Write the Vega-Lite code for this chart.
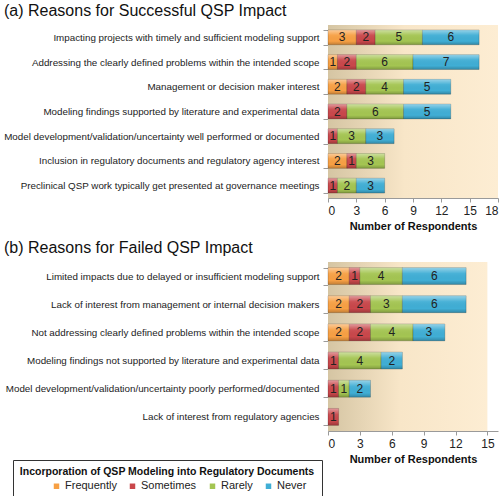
{
  "$schema": "https://vega.github.io/schema/vega-lite/v6.json",
  "background": "white",
  "padding": {"left": 3, "top": 3, "right": 0, "bottom": 0},
  "bounds": "flush",
  "spacing": 64,
  "datasets": {
    "a": [
      {"reason": "Impacting projects with timely and sufficient modeling support", "category": "Frequently", "order": 1, "count": 3},
      {"reason": "Impacting projects with timely and sufficient modeling support", "category": "Sometimes", "order": 2, "count": 2},
      {"reason": "Impacting projects with timely and sufficient modeling support", "category": "Rarely", "order": 3, "count": 5},
      {"reason": "Impacting projects with timely and sufficient modeling support", "category": "Never", "order": 4, "count": 6},
      {"reason": "Addressing the clearly defined problems within the intended scope", "category": "Frequently", "order": 1, "count": 1},
      {"reason": "Addressing the clearly defined problems within the intended scope", "category": "Sometimes", "order": 2, "count": 2},
      {"reason": "Addressing the clearly defined problems within the intended scope", "category": "Rarely", "order": 3, "count": 6},
      {"reason": "Addressing the clearly defined problems within the intended scope", "category": "Never", "order": 4, "count": 7},
      {"reason": "Management or decision maker interest", "category": "Frequently", "order": 1, "count": 2},
      {"reason": "Management or decision maker interest", "category": "Sometimes", "order": 2, "count": 2},
      {"reason": "Management or decision maker interest", "category": "Rarely", "order": 3, "count": 4},
      {"reason": "Management or decision maker interest", "category": "Never", "order": 4, "count": 5},
      {"reason": "Modeling findings supported by literature and experimental data", "category": "Sometimes", "order": 2, "count": 2},
      {"reason": "Modeling findings supported by literature and experimental data", "category": "Rarely", "order": 3, "count": 6},
      {"reason": "Modeling findings supported by literature and experimental data", "category": "Never", "order": 4, "count": 5},
      {"reason": "Model development/validation/uncertainty well performed or documented", "category": "Sometimes", "order": 2, "count": 1},
      {"reason": "Model development/validation/uncertainty well performed or documented", "category": "Rarely", "order": 3, "count": 3},
      {"reason": "Model development/validation/uncertainty well performed or documented", "category": "Never", "order": 4, "count": 3},
      {"reason": "Inclusion in regulatory documents and regulatory agency interest", "category": "Frequently", "order": 1, "count": 2},
      {"reason": "Inclusion in regulatory documents and regulatory agency interest", "category": "Sometimes", "order": 2, "count": 1},
      {"reason": "Inclusion in regulatory documents and regulatory agency interest", "category": "Rarely", "order": 3, "count": 3},
      {"reason": "Preclinical QSP work typically get presented at governance meetings", "category": "Sometimes", "order": 2, "count": 1},
      {"reason": "Preclinical QSP work typically get presented at governance meetings", "category": "Rarely", "order": 3, "count": 2},
      {"reason": "Preclinical QSP work typically get presented at governance meetings", "category": "Never", "order": 4, "count": 3}
    ],
    "b": [
      {"reason": "Limited impacts due to delayed or insufficient modeling support", "category": "Frequently", "order": 1, "count": 2},
      {"reason": "Limited impacts due to delayed or insufficient modeling support", "category": "Sometimes", "order": 2, "count": 1},
      {"reason": "Limited impacts due to delayed or insufficient modeling support", "category": "Rarely", "order": 3, "count": 4},
      {"reason": "Limited impacts due to delayed or insufficient modeling support", "category": "Never", "order": 4, "count": 6},
      {"reason": "Lack of interest from management or internal decision makers", "category": "Frequently", "order": 1, "count": 2},
      {"reason": "Lack of interest from management or internal decision makers", "category": "Sometimes", "order": 2, "count": 2},
      {"reason": "Lack of interest from management or internal decision makers", "category": "Rarely", "order": 3, "count": 3},
      {"reason": "Lack of interest from management or internal decision makers", "category": "Never", "order": 4, "count": 6},
      {"reason": "Not addressing clearly defined problems within the intended scope", "category": "Frequently", "order": 1, "count": 2},
      {"reason": "Not addressing clearly defined problems within the intended scope", "category": "Sometimes", "order": 2, "count": 2},
      {"reason": "Not addressing clearly defined problems within the intended scope", "category": "Rarely", "order": 3, "count": 4},
      {"reason": "Not addressing clearly defined problems within the intended scope", "category": "Never", "order": 4, "count": 3},
      {"reason": "Modeling findings not supported by literature and experimental data", "category": "Sometimes", "order": 2, "count": 1},
      {"reason": "Modeling findings not supported by literature and experimental data", "category": "Rarely", "order": 3, "count": 4},
      {"reason": "Modeling findings not supported by literature and experimental data", "category": "Never", "order": 4, "count": 2},
      {"reason": "Model development/validation/uncertainty poorly performed/documented", "category": "Sometimes", "order": 2, "count": 1},
      {"reason": "Model development/validation/uncertainty poorly performed/documented", "category": "Rarely", "order": 3, "count": 1},
      {"reason": "Model development/validation/uncertainty poorly performed/documented", "category": "Never", "order": 4, "count": 2},
      {"reason": "Lack of interest from regulatory agencies", "category": "Sometimes", "order": 2, "count": 1}
    ]
  },
  "vconcat": [
    {
      "width": 170,
      "height": 173,
      "title": {"text": "(a) Reasons for Successful QSP Impact", "dx": -324, "offset": 1},
      "layer": [
        {
          "data": {"values": [{"lo": 0, "hi": 18}]},
          "mark": {"type": "rect", "fill": {"gradient": "linear", "x1": 0, "y1": 0, "x2": 1, "y2": 0, "stops": [{"offset": 0, "color": "#d5c5a3"}, {"offset": 0.45, "color": "#f8e6c8"}, {"offset": 1, "color": "#fdedd3"}]}},
          "encoding": {
            "x": {"field": "lo", "type": "quantitative", "scale": {"domain": [0, 18]}, "title": "Number of Respondents",
              "axis": {"values": [0, 3, 6, 9, 12, 15, 18], "grid": false, "labelOverlap": false, "labelFontSize": 12, "titleFontSize": 11, "titleFontWeight": "bold", "titleColor": "#111", "tickSize": 4, "labelPadding": 3, "titlePadding": 4}},
            "x2": {"field": "hi"},
            "y": {"value": 0},
            "y2": {"value": "height"}
          }
        },
        {
          "data": {"name": "a"},
          "transform": [
            {"stack": "count", "groupby": ["reason"], "sort": [{"field": "order"}], "as": ["x0", "x1"]},
            {"calculate": "(datum.x0 + datum.x1) / 2", "as": "mid"}
          ],
          "encoding": {
            "y": {"field": "reason", "type": "nominal", "sort": null, "title": null, "scale": {"paddingInner": 0.4, "paddingOuter": 0.2},
              "axis": {"tickBand": "extent", "tickSize": 5, "labelFontSize": 9.8, "labelPadding": 4, "labelLimit": 400}}
          },
          "layer": [
            {
              "mark": {"type": "bar", "stroke": "rgba(0,0,0,0.3)", "strokeWidth": 0.6},
              "encoding": {
                "x": {"field": "x0", "type": "quantitative", "title": "Number of Respondents",
                  "axis": {"values": [0, 3, 6, 9, 12, 15, 18], "grid": false, "labelOverlap": false, "labelFontSize": 12, "titleFontSize": 11, "titleFontWeight": "bold", "titleColor": "#111", "tickSize": 4, "labelPadding": 3, "titlePadding": 4}},
                "x2": {"field": "x1"},
                "color": {"field": "category", "type": "nominal", "scale": {"domain": ["pad", "Frequently", "Sometimes", "Rarely", "Never"], "range": ["rgba(0,0,0,0)", "#f7a044", "#c9474b", "#a4c552", "#40aed5"]},
                  "legend": {"title": "Incorporation of QSP Modeling into Regulatory Documents", "labelExpr": "datum.label == 'pad' ? '        ' : datum.label"}}
              }
            },
            {
              "mark": {"type": "bar", "fill": {"gradient": "linear", "x1": 0, "y1": 0, "x2": 0, "y2": 1, "stops": [{"offset": 0, "color": "rgba(255,255,255,0.45)"}, {"offset": 0.35, "color": "rgba(255,255,255,0.05)"}, {"offset": 0.75, "color": "rgba(0,0,0,0)"}, {"offset": 1, "color": "rgba(0,0,0,0.22)"}]}},
              "encoding": {"x": {"field": "x0", "type": "quantitative", "title": "Number of Respondents",
                  "axis": {"values": [0, 3, 6, 9, 12, 15, 18], "grid": false, "labelOverlap": false, "labelFontSize": 12, "titleFontSize": 11, "titleFontWeight": "bold", "titleColor": "#111", "tickSize": 4, "labelPadding": 3, "titlePadding": 4}}, "x2": {"field": "x1"}}
            },
            {
              "mark": {"type": "text", "fontSize": 12, "color": "#222", "font": "Liberation Sans"},
              "encoding": {"x": {"field": "mid", "type": "quantitative", "title": "Number of Respondents",
                  "axis": {"values": [0, 3, 6, 9, 12, 15, 18], "grid": false, "labelOverlap": false, "labelFontSize": 12, "titleFontSize": 11, "titleFontWeight": "bold", "titleColor": "#111", "tickSize": 4, "labelPadding": 3, "titlePadding": 4}}, "text": {"field": "count"}}
            }
          ]
        }
      ]
    },
    {
      "width": 170,
      "height": 169,
      "title": {"text": "(b) Reasons for Failed QSP Impact", "dx": -324, "offset": 1},
      "layer": [
        {
          "data": {"values": [{"lo": 0, "hi": 15}]},
          "mark": {"type": "rect", "fill": {"gradient": "linear", "x1": 0, "y1": 0, "x2": 1, "y2": 0, "stops": [{"offset": 0, "color": "#d5c5a3"}, {"offset": 0.45, "color": "#f8e6c8"}, {"offset": 1, "color": "#fdedd3"}]}},
          "encoding": {
            "x": {"field": "lo", "type": "quantitative", "scale": {"domain": [0, 15]}, "title": "Number of Respondents",
              "axis": {"values": [0, 3, 6, 9, 12, 15], "grid": false, "labelOverlap": false, "labelFontSize": 12, "titleFontSize": 11, "titleFontWeight": "bold", "titleColor": "#111", "tickSize": 4, "labelPadding": 3, "titlePadding": 4}},
            "x2": {"field": "hi"},
            "y": {"value": 0},
            "y2": {"value": "height"}
          }
        },
        {
          "data": {"name": "b"},
          "transform": [
            {"stack": "count", "groupby": ["reason"], "sort": [{"field": "order"}], "as": ["x0", "x1"]},
            {"calculate": "(datum.x0 + datum.x1) / 2", "as": "mid"}
          ],
          "encoding": {
            "y": {"field": "reason", "type": "nominal", "sort": null, "title": null, "scale": {"paddingInner": 0.4, "paddingOuter": 0.2},
              "axis": {"tickBand": "extent", "tickSize": 5, "labelFontSize": 9.8, "labelPadding": 4, "labelLimit": 400}}
          },
          "layer": [
            {
              "mark": {"type": "bar", "stroke": "rgba(0,0,0,0.3)", "strokeWidth": 0.6},
              "encoding": {
                "x": {"field": "x0", "type": "quantitative", "title": "Number of Respondents",
                  "axis": {"values": [0, 3, 6, 9, 12, 15], "grid": false, "labelOverlap": false, "labelFontSize": 12, "titleFontSize": 11, "titleFontWeight": "bold", "titleColor": "#111", "tickSize": 4, "labelPadding": 3, "titlePadding": 4}},
                "x2": {"field": "x1"},
                "color": {"field": "category", "type": "nominal", "scale": {"domain": ["pad", "Frequently", "Sometimes", "Rarely", "Never"], "range": ["rgba(0,0,0,0)", "#f7a044", "#c9474b", "#a4c552", "#40aed5"]},
                  "legend": {"title": "Incorporation of QSP Modeling into Regulatory Documents", "labelExpr": "datum.label == 'pad' ? '        ' : datum.label"}}
              }
            },
            {
              "mark": {"type": "bar", "fill": {"gradient": "linear", "x1": 0, "y1": 0, "x2": 0, "y2": 1, "stops": [{"offset": 0, "color": "rgba(255,255,255,0.45)"}, {"offset": 0.35, "color": "rgba(255,255,255,0.05)"}, {"offset": 0.75, "color": "rgba(0,0,0,0)"}, {"offset": 1, "color": "rgba(0,0,0,0.22)"}]}},
              "encoding": {"x": {"field": "x0", "type": "quantitative", "title": "Number of Respondents",
                  "axis": {"values": [0, 3, 6, 9, 12, 15], "grid": false, "labelOverlap": false, "labelFontSize": 12, "titleFontSize": 11, "titleFontWeight": "bold", "titleColor": "#111", "tickSize": 4, "labelPadding": 3, "titlePadding": 4}}, "x2": {"field": "x1"}}
            },
            {
              "mark": {"type": "text", "fontSize": 12, "color": "#222", "font": "Liberation Sans"},
              "encoding": {"x": {"field": "mid", "type": "quantitative", "title": "Number of Respondents",
                  "axis": {"values": [0, 3, 6, 9, 12, 15], "grid": false, "labelOverlap": false, "labelFontSize": 12, "titleFontSize": 11, "titleFontWeight": "bold", "titleColor": "#111", "tickSize": 4, "labelPadding": 3, "titlePadding": 4}}, "text": {"field": "count"}}
            }
          ]
        }
      ]
    }
  ],
  "resolve": {"scale": {"x": "independent", "y": "independent"}},
  "config": {
    "font": "Liberation Sans",
    "view": {"stroke": null},
    "axis": {"labelFont": "Liberation Sans", "titleFont": "Liberation Sans", "domainColor": "#9a9a9a", "tickColor": "#9a9a9a", "labelColor": "#222"},
    "axisX": {"labelOverlap": false, "labelBound": false},
    "title": {"font": "Liberation Sans", "fontWeight": "normal", "fontSize": 16, "color": "#111", "anchor": "start", "frame": "group"},
    "legend": {
      "orient": "none", "legendX": -315, "legendY": 435, "direction": "horizontal", "columns": 5,
      "titleFontSize": 10.5, "titleFontWeight": "bold", "titleColor": "#111", "titleAnchor": "middle", "titleFont": "Liberation Sans", "titleLimit": 400,
      "labelFontSize": 11, "labelColor": "#222", "labelFont": "Liberation Sans",
      "symbolType": "square", "symbolSize": 30, "symbolStrokeWidth": 0, "columnPadding": 10, "labelOffset": 3,
      "strokeColor": "#333", "padding": 7, "titlePadding": 3
    }
  }
}
